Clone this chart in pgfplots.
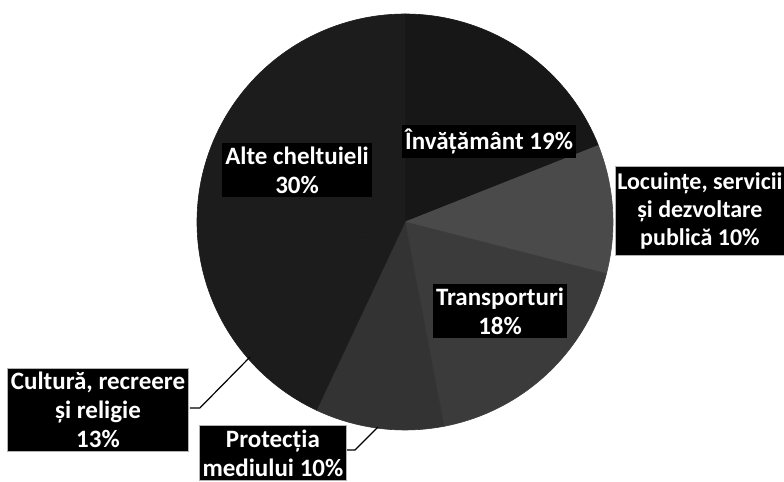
\documentclass[border=0pt]{standalone}
\usepackage{fontspec}
\setmainfont{Carlito}
\usepackage{pgfplots}
\usepackage{pgfplotstable}
\pgfplotsset{compat=1.18}
\pgfplotstableread{
value gray
19 0.09
10 0.29
18 0.23
10 0.20
13 0.11
30 0.11
}\piedata
\tikzset{lbl/.style={font=\fontsize{12.5}{14.5}\selectfont\bfseries, text=white, fill=black, align=center, inner xsep=1.5pt, inner ysep=2pt}}
\begin{document}
\begin{tikzpicture}
\clip (0,0) rectangle (392pt,241pt);
\begin{axis}[
  scale only axis, width=392pt, height=241pt,
  xmin=-1.9471, xmax=1.8221, ymin=-1.25, ymax=1.0673,
  hide axis, clip=false,
]
\addplot[draw=none, forget plot] coordinates {(-1.9471,-1.25) (1.8221,1.0673)};
\pgfplotsextra{
  \gdef\startang{90}
  \foreach \i in {0,...,5}{
    \pgfplotstablegetelem{\i}{value}\of\piedata \let\v\pgfplotsretval
    \pgfplotstablegetelem{\i}{gray}\of\piedata \let\g\pgfplotsretval
    \pgfmathsetmacro\endang{\startang-3.6*\v}
    \definecolor{slice}{gray}{\g}
    \fill[slice, draw=slice, line width=0.3pt] (axis cs:0,0) -- (axis cs:{cos(\startang)},{sin(\startang)}) arc[start angle=\startang, end angle=\endang, radius=104pt] -- cycle;
    \xdef\startang{\endang}
  }
  \draw[black, line width=0.6pt] (axis cs:-1.034,-0.894) -- (axis cs:-0.986,-0.894) -- (axis cs:-0.745,-0.649);
  \draw[black, line width=0.6pt] (axis cs:-0.288,-1.096) -- (axis cs:-0.240,-1.096) -- (axis cs:-0.130,-0.986);
}
\node[lbl] at (axis cs:-0.519,0.25) {Alte cheltuieli\\30\%};
\node[lbl] at (axis cs:0.404,0.385) {Învățământ 19\%};
\node[lbl, font=\fontsize{12}{14}\selectfont\bfseries, inner ysep=3pt, inner xsep=1pt, draw=gray!60, line width=0.5pt] at (axis cs:1.418,0.053) {Locuințe, servicii\\și dezvoltare\\publică 10\%};
\node[lbl] at (axis cs:0.457,-0.428) {Transporturi\\18\%};
\node[lbl, draw=gray!60, line width=0.5pt] at (axis cs:-1.476,-0.904) {Cultură, recreere\\și religie\\13\%};
\node[lbl, draw=gray!60, line width=0.5pt] at (axis cs:-0.635,-1.11) {Protecția\\mediului 10\%};
\end{axis}
\end{tikzpicture}
\end{document}
